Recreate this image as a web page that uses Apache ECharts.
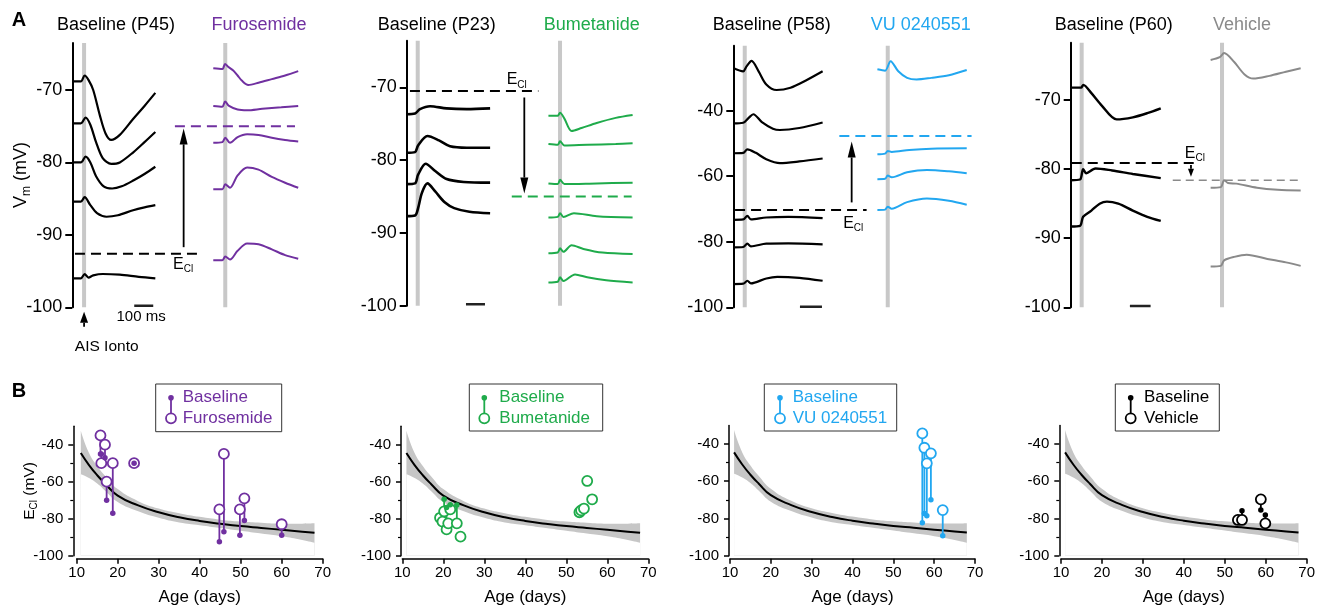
<!DOCTYPE html>
<html>
<head>
<meta charset="utf-8">
<script src="https://cdn.jsdelivr.net/npm/echarts@6.0.0/dist/echarts.min.js"></script>
<style>
html,body{margin:0;padding:0;background:#fff;}
#chart{width:1329px;height:612px;}
</style>
</head>
<body>
<div id="chart"></div>
<script>
// ================= DATA =================
// Panel A: membrane potential traces, points are [time (ms), Vm (mV)]
const a1BaseTraces = [
  [[0,-68.8],[45,-68.8],[65,-68.0],[85,-68.6],[110,-70.0],[145,-73.5],[175,-76.0],[205,-76.9],[250,-76.2],[320,-74.0],[380,-72.2],[437,-70.4]],
  [[0,-74.6],[45,-74.6],[70,-73.8],[95,-74.8],[125,-77.2],[160,-79.4],[205,-80.2],[250,-80.0],[321,-78.6],[380,-77.2],[437,-75.8]],
  [[0,-80.0],[45,-80.0],[70,-79.2],[95,-80.0],[125,-81.9],[165,-83.3],[210,-83.6],[260,-83.3],[321,-82.5],[380,-81.6],[437,-80.6]],
  [[0,-85.4],[45,-85.4],[65,-84.8],[95,-85.9],[130,-87.0],[180,-87.5],[240,-87.3],[320,-86.6],[380,-86.2],[437,-85.9]],
  [[0,-96.0],[45,-96.0],[65,-95.4],[85,-95.9],[110,-95.6],[160,-95.4],[250,-95.5],[350,-95.8],[437,-96.0]]
];
const a1DrugTraces = [
  [[742,-67.0],[790,-67.1],[804,-66.4],[820,-66.8],[847,-67.3],[870,-68.0],[892,-68.7],[926,-69.3],[980,-69.0],[1050,-68.5],[1120,-68.0],[1189,-67.4]],
  [[742,-72.2],[790,-72.3],[804,-71.6],[825,-72.2],[870,-72.7],[920,-72.8],[1000,-72.6],[1100,-72.4],[1189,-72.2]],
  [[742,-77.3],[790,-77.2],[805,-76.6],[830,-77.3],[870,-76.5],[920,-76.1],[980,-76.2],[1050,-76.6],[1120,-76.9],[1189,-77.1]],
  [[742,-83.7],[790,-83.7],[805,-83.0],[830,-83.5],[870,-81.8],[920,-80.7],[980,-81.0],[1050,-82.0],[1120,-82.8],[1189,-83.5]],
  [[742,-93.5],[790,-93.5],[805,-93.0],[830,-93.4],[870,-92.2],[920,-91.2],[980,-91.3],[1050,-92.0],[1120,-92.8],[1189,-93.3]]
];
const a2BaseTraces = [
  [[0,-73.7],[44,-73.6],[70,-73.0],[123,-72.6],[210,-72.9],[316,-73.0],[439,-72.9]],
  [[0,-79.0],[44,-78.9],[60,-78.0],[109,-76.7],[170,-77.3],[228,-78.1],[316,-78.3],[439,-78.3]],
  [[0,-83.3],[44,-83.2],[60,-82.0],[100,-80.5],[150,-81.5],[210,-82.6],[300,-83.0],[439,-83.1]],
  [[0,-87.7],[44,-87.6],[60,-86.6],[80,-84.5],[109,-83.2],[150,-84.3],[200,-85.8],[250,-86.6],[330,-87.1],[439,-87.3]]
];
const a2DrugTraces = [
  [[746,-73.9],[795,-73.9],[807,-73.5],[830,-74.3],[868,-76.0],[920,-75.6],[1000,-74.9],[1100,-74.2],[1189,-73.8]],
  [[746,-77.8],[795,-77.9],[807,-77.4],[830,-78.0],[950,-77.9],[1100,-77.8],[1189,-77.7]],
  [[746,-83.2],[795,-83.3],[807,-82.7],[830,-83.3],[1000,-83.2],[1189,-83.1]],
  [[746,-87.9],[795,-87.8],[807,-87.3],[825,-87.8],[880,-87.3],[1000,-87.7],[1189,-87.9]],
  [[746,-92.8],[795,-92.7],[807,-92.1],[825,-92.6],[868,-91.7],[930,-92.2],[1030,-92.7],[1189,-92.9]],
  [[746,-96.8],[795,-96.7],[807,-96.1],[825,-96.6],[886,-95.7],[950,-96.1],[1050,-96.5],[1189,-96.8]]
];
const a3BaseTraces = [
  [[0,-27.0],[45,-28.0],[60,-26.5],[83,-24.8],[115,-28.0],[150,-32.0],[197,-33.7],[260,-33.0],[330,-30.8],[406,-28.0]],
  [[0,-43.9],[45,-43.7],[70,-42.2],[91,-41.1],[130,-43.5],[180,-45.5],[212,-45.9],[300,-45.3],[406,-43.6]],
  [[0,-53.0],[45,-52.9],[64,-51.8],[100,-52.8],[150,-54.8],[212,-56.0],[300,-55.5],[406,-54.6]],
  [[0,-73.3],[45,-73.2],[64,-72.1],[80,-73.2],[150,-72.6],[250,-72.4],[406,-72.8]],
  [[0,-81.7],[45,-81.6],[64,-80.6],[80,-81.4],[150,-80.6],[250,-80.5],[406,-80.8]],
  [[0,-92.9],[45,-92.8],[64,-91.9],[80,-92.7],[150,-91.2],[200,-90.7],[300,-91.0],[406,-91.9]]
];
const a3DrugTraces = [
  [[655,-27.4],[690,-27.8],[715,-24.9],[750,-28.0],[790,-30.0],[833,-30.5],[900,-30.0],[980,-29.2],[1061,-27.6]],
  [[655,-53.3],[690,-53.1],[702,-52.3],[720,-52.6],[800,-52.0],[900,-51.6],[1061,-51.5]],
  [[655,-60.9],[690,-60.8],[702,-59.8],[720,-60.3],[790,-58.8],[880,-58.1],[980,-58.5],[1061,-59.1]],
  [[655,-70.3],[690,-70.2],[702,-69.3],[720,-69.9],[790,-67.9],[880,-66.8],[980,-67.5],[1061,-68.7]]
];
const a4BaseTraces = [
  [[0,-68.2],[50,-68.2],[61,-67.8],[100,-69.0],[150,-70.8],[222,-72.8],[300,-72.5],[370,-71.9],[435,-71.2]],
  [[0,-81.6],[45,-81.5],[60,-80.0],[75,-80.6],[120,-79.9],[200,-80.2],[300,-80.7],[435,-81.3]],
  [[0,-88.3],[45,-88.2],[60,-86.9],[100,-86.0],[140,-85.0],[175,-84.7],[230,-85.0],[300,-86.0],[370,-86.9],[435,-87.5]]
];
const a4DrugTraces = [
  [[676,-64.2],[720,-63.8],[741,-63.2],[790,-64.5],[840,-66.3],[882,-66.9],[960,-66.5],[1040,-65.9],[1111,-65.4]],
  [[676,-82.7],[725,-82.6],[741,-81.6],[760,-82.0],[800,-82.1],[900,-82.7],[1000,-83.0],[1111,-83.1]],
  [[676,-94.1],[725,-94.0],[741,-93.2],[790,-92.7],[850,-92.4],[950,-93.0],[1040,-93.5],[1111,-94.0]]
];
// E_Cl before (baseline) and after drug, mV
const eclBaseline = [-92.6, -70.5, -70.3, -79.1];
const eclDrug = [-75.0, -85.0, -47.7, -81.6];
const aTitles = [['Baseline (P45)','Furosemide'],['Baseline (P23)','Bumetanide'],['Baseline (P58)','VU 0240551'],['Baseline (P60)','Vehicle']];
const aYTicks = [[-100,-90,-80,-70],[-100,-90,-80,-70],[-100,-80,-60,-40],[-100,-90,-80,-70]];

// Panel B: E_Cl vs age fit (mean and confidence band)
const fitAge   = [11, 13, 15, 17, 20, 25, 30, 35, 40, 45, 50, 55, 60, 65, 68];
const fitMean  = [-44.5,-51,-56.5,-61.2,-67.5,-72.8,-76.5,-79.2,-81.2,-82.7,-84,-85,-86,-87,-87.6];
const fitUpper = [-32.5,-44.5,-51.5,-57,-64,-70.5,-74.5,-77,-79,-80.5,-81.5,-82.2,-82.7,-82.7,-82.5];
const fitLower = [-56,-58,-61,-65,-71,-76,-79.5,-82,-83.5,-85,-86.5,-88,-89.5,-91.5,-93];
// Paired cells: age (days), baseline E_Cl, E_Cl after drug (mV)
const furoAge  = [15.8, 16.0, 16.9, 17.3, 18.8, 24.0, 44.8, 45.9, 49.8, 50.9, 60.0];
const furoBase = [-45, -45, -47, -70, -77, -50, -92.5, -87, -89, -81, -89];
const furoDrug = [-35, -50, -40, -60, -50, -50, -75, -45, -75, -69, -83];
const bumeAge  = [19.2, 19.8, 20.2, 20.8, 21.2, 21.7, 23.3, 24.2, 53.2, 53.6, 54.3, 55.1, 56.3];
const bumeBase = [null, null, -69.5, -74, null, -72.5, -72.6, null, null, null, null, null, null];
const bumeDrug = [-79.5, -81.6, -76, -85.8, -82.5, -75, -82.5, -89.7, -76.5, -75.5, -74.5, -59.6, -69.5];
const vuAge    = [57.1, 57.6, 58.2, 59.2, 62.1];
const vuBase   = [-82.3, -77.3, -78.5, -70.0, -89.3];
const vuDrug   = [-34.3, -42.0, -50.4, -45.0, -75.5];
const vehAge   = [53.2, 54.2, 58.8, 59.9];
const vehBase  = [null, -75.8, -75.4, -78.1];
const vehDrug  = [-80.8, -80.8, -69.7, -82.6];
const bYTicks = [-100, -80, -60, -40];
const bXTicks = [10, 20, 30, 40, 50, 60, 70];
const bLegendLabels = [['Baseline','Furosemide'],['Baseline','Bumetanide'],['Baseline','VU 0240551'],['Baseline','Vehicle']];

// ================= STYLE / LAYOUT =================
const FONT = "'Liberation Sans', Arial, Helvetica, sans-serif";
const COL = {base:'#000', furo:'#7030a0', bume:'#1fab4b', vu:'#22a7f0', veh:'#8a8a8a', bar:'#c8c8c8', band:'#c6c6c6'};
const aTraces = [[a1BaseTraces,a1DrugTraces],[a2BaseTraces,a2DrugTraces],[a3BaseTraces,a3DrugTraces],[a4BaseTraces,a4DrugTraces]];
const aLayout = [
  {left:72.3, top:42.9, height:264.4, k:0.19, ymax:-63.5, interval:10, color:COL.furo, barT:[62,805], baseDash:[14,656], drugDash:[540,1172], arrow:[586,-91.7,-75.3], head:[8,16], ecl:[583,-94.1], scale:[326,426], titleX:[116,259], baseW:2.2, drugDashW:2, drugDashType:[10,6]},
  {left:406.7, top:40.7, height:265, k:0.19, ymax:-63.6, interval:10, color:COL.bume, barT:[58,807], baseDash:[17,693], drugDash:[553,1184], arrow:[619,-71.4,-84.6], head:[8,16], ecl:[579,-69.0], scale:[312,412], titleX:[436.7,591.7], baseW:2.6, drugDashW:2, drugDashType:[10,6]},
  {left:733.3, top:45.75, height:261.55, k:0.22, ymax:-20.2, interval:20, color:COL.vu, barT:[52,702], baseDash:[8,606], drugDash:[482,1083], arrow:[538,-68.0,-49.4], head:[8,16], ecl:[545,-74.5], scale:[303,403], titleX:[771.7,920.8], baseW:2.2, drugDashW:2, drugDashType:[10,6]},
  {left:1070.7, top:42.7, height:264.6, k:0.207, ymax:-61.7, interval:10, color:COL.veh, barT:[53,731], baseDash:[5,600], drugDash:[493,1111], arrow:[581,-79.4,-81.1], head:[6,8], ecl:[600,-77.7], scale:[286,386], titleX:[1113.8,1242], baseW:2.4, drugDashW:1.6, drugDashType:[8,5]}
];
const bData = [
  {age:furoAge, base:furoBase, drug:furoDrug},
  {age:bumeAge, base:bumeBase, drug:bumeDrug},
  {age:vuAge, base:vuBase, drug:vuDrug},
  {age:vehAge, base:vehBase, drug:vehDrug}
];
const bLayout = [
  {left:76.7, top:426.2, width:246, height:129.5, yOff:3.4, color:COL.furo, lg:{x:155.7,y:384,w:126,h:47.7,sx:171,tx:182.7}},
  {left:402.3, top:426.2, width:246, height:129.5, yOff:1.3, color:COL.bume, lg:{x:469.3,y:384,w:133.4,h:47,sx:484.3,tx:499.3}},
  {left:730, top:425.4, width:245, height:130.3, yOff:1, color:COL.vu, lg:{x:764.3,y:384,w:132.4,h:47,sx:780,tx:792.7}},
  {left:1061, top:425.4, width:245.7, height:130.3, yOff:1.7, color:'#000', lg:{x:1115.3,y:384,w:104,h:47,sx:1130.7,tx:1144}}
];

// ================= HELPERS =================
function textSeries(g, t, v, text, style) {
  return {type:'custom', xAxisIndex:g, yAxisIndex:g, clip:false, silent:true, z:6, data:[[t, v]],
    renderItem:(p, api) => {
      const c = api.coord([api.value(0), api.value(1)]);
      return {type:'text', x:c[0], y:c[1], style:Object.assign({text:text, fill:'#000', align:'center', verticalAlign:'middle', fontFamily:FONT, fontSize:15}, style)};
    }};
}
function arrowSeries(g, t, v1, v2, color, head) {
  return {type:'custom', xAxisIndex:g, yAxisIndex:g, clip:false, silent:true, z:6, data:[[t, v1, v2]],
    renderItem:(p, api) => {
      const a = api.coord([api.value(0), api.value(1)]);
      const b = api.coord([api.value(0), api.value(2)]);
      const dir = b[1] > a[1] ? 1 : -1;
      const w = head[0], h = head[1];
      const by = b[1] - dir * h;
      return {type:'group', children:[
        {type:'line', shape:{x1:a[0], y1:a[1], x2:b[0], y2:by}, style:{stroke:color, lineWidth:1.8}},
        {type:'polygon', shape:{points:[[b[0], b[1]], [b[0]-w/2, by], [b[0]+w/2, by]]}, style:{fill:color}}
      ]};
    }};
}
const subRich = {s:{fontSize:10, lineHeight:11, verticalAlign:'bottom', fontFamily:FONT}};

// ================= BUILD =================
const grid = [], xAxis = [], yAxis = [], series = [], graphic = [];

aLayout.forEach((L, g) => {
  grid.push({left:L.left, top:L.top, width:240, height:L.height});
  xAxis.push({gridIndex:g, type:'value', min:0, max:240 / L.k, show:false});
  yAxis.push({gridIndex:g, type:'value', min:-100, max:L.ymax, interval:L.interval,
    axisLine:{show:true, onZero:false, lineStyle:{color:'#000', width:2}},
    axisTick:{show:true, length:7, lineStyle:{color:'#000', width:2}, customValues:aYTicks[g]},
    axisLabel:{color:'#000', fontSize:18, fontFamily:FONT, margin:10, customValues:aYTicks[g]},
    splitLine:{show:false},
    name: g === 0 ? 'V{s|m} (mV)' : '', nameLocation:'middle', nameGap:40, nameMoveOverlap:false,
    nameTextStyle:{color:'#000', fontSize:18, fontFamily:FONT, lineHeight:22, rich:{s:{fontSize:12, lineHeight:12, verticalAlign:'bottom', fontFamily:FONT}}}
  });
  // stimulation bars
  L.barT.forEach(t => series.push({type:'line', xAxisIndex:g, yAxisIndex:g, data:[[t, L.ymax], [t, -100]], symbol:'none', silent:true, z:1, lineStyle:{color:COL.bar, width:4}}));
  const tr = aTraces[g];
  tr[0].forEach(d => series.push({type:'line', xAxisIndex:g, yAxisIndex:g, data:d, symbol:'none', smooth:0.3, silent:true, z:3, lineStyle:{color:COL.base, width:L.baseW}}));
  tr[1].forEach(d => series.push({type:'line', xAxisIndex:g, yAxisIndex:g, data:d, symbol:'none', smooth:0.3, silent:true, z:3, lineStyle:{color:L.color, width:2}}));
  // E_Cl dashed lines
  series.push({type:'line', xAxisIndex:g, yAxisIndex:g, data:[[L.baseDash[0], eclBaseline[g]], [L.baseDash[1], eclBaseline[g]]], symbol:'none', silent:true, z:4, lineStyle:{color:'#000', width:2, type:[10,6]}});
  series.push({type:'line', xAxisIndex:g, yAxisIndex:g, data:[[L.drugDash[0], eclDrug[g]], [L.drugDash[1], eclDrug[g]]], symbol:'none', silent:true, z:4, lineStyle:{color:L.color, width:L.drugDashW, type:L.drugDashType}});
  series.push(arrowSeries(g, L.arrow[0], L.arrow[1], L.arrow[2], '#000', L.head));
  series.push(textSeries(g, L.ecl[0], L.ecl[1], 'E{s|Cl}', {fontSize:16, lineHeight:20, rich:subRich}));
  // scale bar (100 ms)
  series.push({type:'line', xAxisIndex:g, yAxisIndex:g, data:[[L.scale[0], -99.8], [L.scale[1], -99.8]], symbol:'none', silent:true, z:4, lineStyle:{color:'#222', width:2.5}});
  // titles
  graphic.push({type:'text', x:L.titleX[0], y:25, style:{text:aTitles[g][0], fill:'#000', font:'18px ' + FONT, align:'center', verticalAlign:'middle'}});
  graphic.push({type:'text', x:L.titleX[1], y:25, style:{text:aTitles[g][1], fill:L.color, font:'18px ' + FONT, align:'center', verticalAlign:'middle'}});
});
// panel A1 extras
series.push(arrowSeries(0, 62, -102.7, -100.6, '#000', [8, 11]));
series.push(textSeries(0, 181, -105.5, 'AIS Ionto', {fontSize:15.5}));
series.push(textSeries(0, 362, -101.3, '100 ms', {fontSize:15}));

bLayout.forEach((L, i) => {
  const g = i + 4;
  grid.push({left:L.left, top:L.top, width:L.width, height:L.height});
  xAxis.push({gridIndex:g, type:'value', min:10, max:70, interval:10, offset:3,
    axisLine:{show:true, onZero:false, lineStyle:{color:'#000', width:1.5}},
    axisTick:{show:true, length:5, lineStyle:{color:'#000', width:1.5}, customValues:bXTicks},
    axisLabel:{color:'#000', fontSize:15, fontFamily:FONT, margin:7, customValues:bXTicks},
    splitLine:{show:false},
    name:'Age (days)', nameLocation:'middle', nameGap:30, nameMoveOverlap:false,
    nameTextStyle:{color:'#000', fontSize:17, fontFamily:FONT}
  });
  yAxis.push({gridIndex:g, type:'value', min:-100, max:-30, interval:20, offset:L.yOff,
    axisLine:{show:true, onZero:false, lineStyle:{color:'#000', width:1.5}},
    axisTick:{show:true, length:5, lineStyle:{color:'#000', width:1.5}, customValues:bYTicks},
    minorTick:{show:true, splitNumber:2, length:3, lineStyle:{color:'#000', width:1.2}},
    axisLabel:{color:'#000', fontSize:15, fontFamily:FONT, margin:10, customValues:bYTicks},
    splitLine:{show:false}, minorSplitLine:{show:false},
    name: i === 0 ? 'E{s|Cl} (mV)' : '', nameLocation:'middle', nameGap:34, nameMoveOverlap:false,
    nameTextStyle:{color:'#000', fontSize:15.5, fontFamily:FONT, lineHeight:20, rich:subRich}
  });
  // confidence band: gray area to upper bound, white area to lower bound (kept beneath the axes)
  series.push({type:'line', xAxisIndex:g, yAxisIndex:g, data:fitAge.map((a, j) => [a, fitUpper[j]]), symbol:'none', smooth:true, silent:true, z:-2,
    lineStyle:{width:0, opacity:0}, areaStyle:{color:COL.band, opacity:1, origin:'start'}});
  series.push({type:'line', xAxisIndex:g, yAxisIndex:g, data:fitAge.map((a, j) => [a, fitLower[j]]), symbol:'none', smooth:true, silent:true, z:-1,
    lineStyle:{width:0, opacity:0}, areaStyle:{color:'#fff', opacity:1, origin:'start'}});
  series.push({type:'line', xAxisIndex:g, yAxisIndex:g, data:fitAge.map((a, j) => [a, fitMean[j]]), symbol:'none', smooth:true, silent:true, z:2,
    lineStyle:{color:'#000', width:2}});
  const D = bData[i];
  const pairs = D.age.map((a, j) => [a, D.base[j], D.drug[j]]).filter(p => p[1] !== null);
  series.push({type:'custom', xAxisIndex:g, yAxisIndex:g, silent:true, z:3, data:pairs,
    renderItem:(p, api) => {
      const a = api.coord([api.value(0), api.value(1)]);
      const b = api.coord([api.value(0), api.value(2)]);
      return {type:'line', shape:{x1:a[0], y1:a[1], x2:b[0], y2:b[1]}, style:{stroke:L.color, lineWidth:1.8}};
    }});
  series.push({type:'scatter', xAxisIndex:g, yAxisIndex:g, silent:true, z:4, symbol:'circle', symbolSize:10,
    data:D.age.map((a, j) => [a, D.drug[j]]),
    itemStyle:{color:'#fff', borderColor:L.color, borderWidth:1.8, opacity:1}});
  series.push({type:'scatter', xAxisIndex:g, yAxisIndex:g, silent:true, z:5, symbol:'circle', symbolSize:5.5,
    data:pairs.map(p => [p[0], p[1]]),
    itemStyle:{color:L.color, opacity:1}});
  // legend box
  const lg = L.lg, y1 = 397.7, y2 = 418.3;
  graphic.push({type:'rect', shape:{x:lg.x, y:lg.y, width:lg.w, height:lg.h}, style:{fill:'#fff', stroke:'#333', lineWidth:1}});
  graphic.push({type:'line', shape:{x1:lg.sx, y1:y1, x2:lg.sx, y2:y2 - 5}, style:{stroke:L.color, lineWidth:1.8}});
  graphic.push({type:'circle', shape:{cx:lg.sx, cy:y1, r:2.8}, style:{fill:L.color}});
  graphic.push({type:'circle', shape:{cx:lg.sx, cy:y2, r:5}, style:{fill:'#fff', stroke:L.color, lineWidth:1.8}});
  graphic.push({type:'text', x:lg.tx, y:y1, style:{text:bLegendLabels[i][0], fill:L.color, font:'17px ' + FONT, align:'left', verticalAlign:'middle'}});
  graphic.push({type:'text', x:lg.tx, y:y2, style:{text:bLegendLabels[i][1], fill:L.color, font:'17px ' + FONT, align:'left', verticalAlign:'middle'}});
});

graphic.push({type:'text', x:19, y:20, style:{text:'A', fill:'#000', font:'bold 20px ' + FONT, align:'center', verticalAlign:'middle'}});
graphic.push({type:'text', x:19, y:391, style:{text:'B', fill:'#000', font:'bold 20px ' + FONT, align:'center', verticalAlign:'middle'}});

const chart = echarts.init(document.getElementById('chart'), null, {renderer:'canvas'});
chart.setOption({
  animation:false,
  backgroundColor:'#fff',
  textStyle:{fontFamily:FONT},
  grid, xAxis, yAxis, series, graphic
});
</script>
</body>
</html>
